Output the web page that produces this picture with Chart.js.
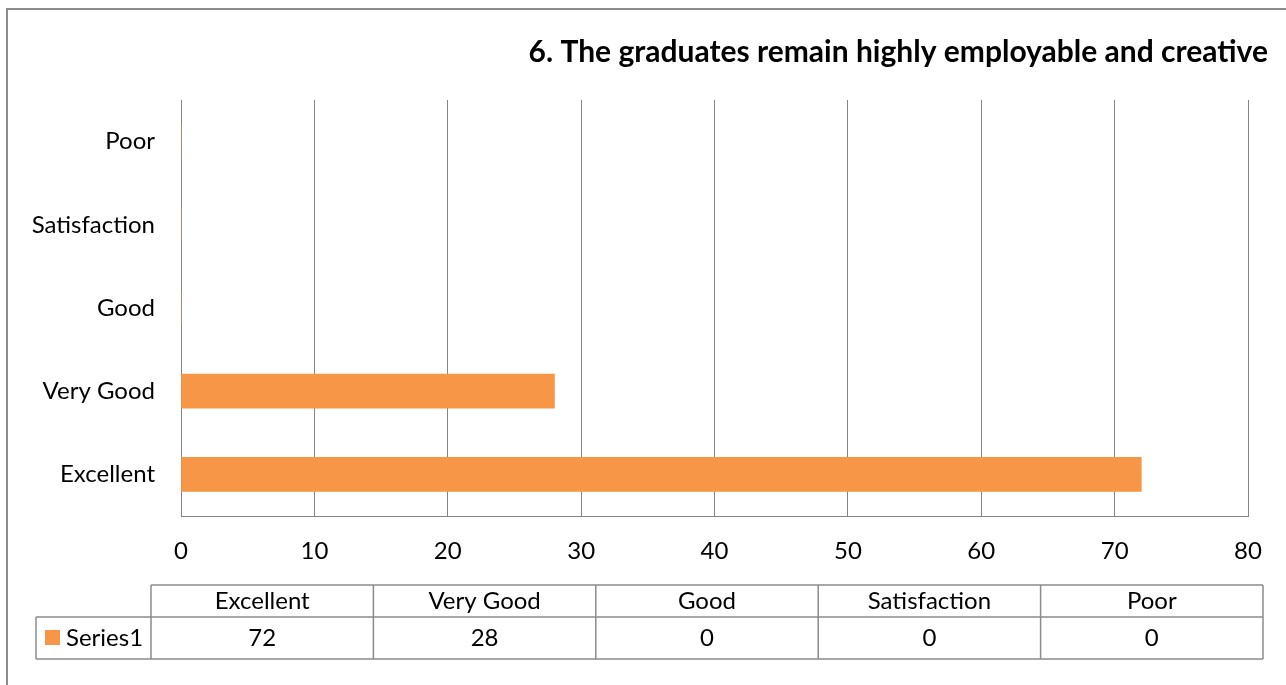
<!DOCTYPE html>
<html>
<head>
<meta charset="utf-8">
<script src="https://cdn.jsdelivr.net/npm/chart.js@4"></script>
<style>
	body { margin: 0; background: #fff; }
	#wrap { width: 1286px; height: 685px; }
</style>
</head>
<body>
<div id="wrap"><canvas id="bar_chart" width="1286" height="685"></canvas></div>
<script>
const TITLE = '6. The graduates remain highly employable and creative';
const categories = ['Excellent', 'Very Good', 'Good', 'Satisfaction', 'Poor'];
const series1 = [72, 28, 0, 0, 0];
const seriesName = 'Series1';
const xTicks = [0, 10, 20, 30, 40, 50, 60, 70, 80];

const FONT = 'Lato, "Open Sans", sans-serif';
const ORANGE = '#F79646';
const LINE = '#858585';

// frame, title and data table drawn straight on the canvas
const excelExtras = {
	id: 'excelExtras',
	beforeDraw(chart) {
		const c = chart.ctx;
		c.save();
		c.fillStyle = '#fff';
		c.fillRect(0, 0, chart.width, chart.height);
		c.restore();
	},
	afterDraw(chart) {
		const c = chart.ctx;
		c.save();
		// outer frame (only top / left fall inside the picture)
		c.strokeStyle = '#8c8c8c';
		c.lineWidth = 2;
		c.beginPath();
		c.moveTo(7, chart.height);
		c.lineTo(7, 9);
		c.lineTo(chart.width, 9);
		c.stroke();

		// title
		c.fillStyle = '#000';
		c.font = 'bold 30px ' + FONT;
		c.textAlign = 'right';
		c.textBaseline = 'middle';
		c.fillText(TITLE, 1268, 52);

		// data table
		const x0 = 151, x1 = 1263, legL = 36;
		const yA = 585, yB = 617, yC = 659;
		const w = (x1 - x0) / categories.length;
		c.strokeStyle = '#8c8c8c';
		c.lineWidth = 1.5;
		c.beginPath();
		c.moveTo(x0, yA); c.lineTo(x1, yA);
		c.moveTo(legL, yB); c.lineTo(x1, yB);
		c.moveTo(legL, yC); c.lineTo(x1, yC);
		c.moveTo(legL, yB); c.lineTo(legL, yC);
		for (let i = 0; i <= categories.length; i++) {
			c.moveTo(x0 + i*w, yA); c.lineTo(x0 + i*w, yC);
		}
		c.stroke();

		c.font = '24px ' + FONT;
		c.textAlign = 'center';
		c.fillStyle = '#000';
		categories.forEach((cat, i) => {
			c.fillText(cat, x0 + i*w + w/2, 601);
			c.fillText(String(series1[i]), x0 + i*w + w/2, 638);
		});
		c.fillStyle = ORANGE;
		c.fillRect(45, 630, 15, 15);
		c.fillStyle = '#000';
		c.textAlign = 'left';
		c.fillText(seriesName, 66, 638);
		c.restore();
	}
};

const ctx = document.getElementById('bar_chart');
const stockChart = new Chart(ctx, {
	type: 'bar',
	data: {
		labels: categories,
		datasets: [{
			label: seriesName,
			data: series1,
			backgroundColor: ORANGE,
			borderWidth: 0,
			barThickness: 34,
		}]
	},
	options: {
		indexAxis: 'y',
		responsive: false,
		animation: false,
		layout: {
			padding: { top: 100, left: 6, right: 38, bottom: 109 }
		},
		scales: {
			x: {
				min: 0,
				max: 80,
				afterBuildTicks: (scale) => { scale.ticks = xTicks.map(v => ({ value: v })); },
				afterFit: (scale) => { scale.height = 60; },
				grid: { color: LINE, lineWidth: 1, drawTicks: false },
				border: { color: LINE, width: 1 },
				ticks: { color: '#000', padding: 21, font: { family: FONT, size: 24 } },
			},
			y: {
				reverse: true,
				afterFit: (scale) => { scale.width = 175; },
				grid: { display: false, drawTicks: false },
				border: { display: false },
				ticks: { color: '#000', padding: 26, font: { family: FONT, size: 24 } },
			}
		},
		plugins: {
			legend: { display: false },
			tooltip: { enabled: false },
		}
	},
	plugins: [excelExtras]
});
</script>
</body>
</html>
